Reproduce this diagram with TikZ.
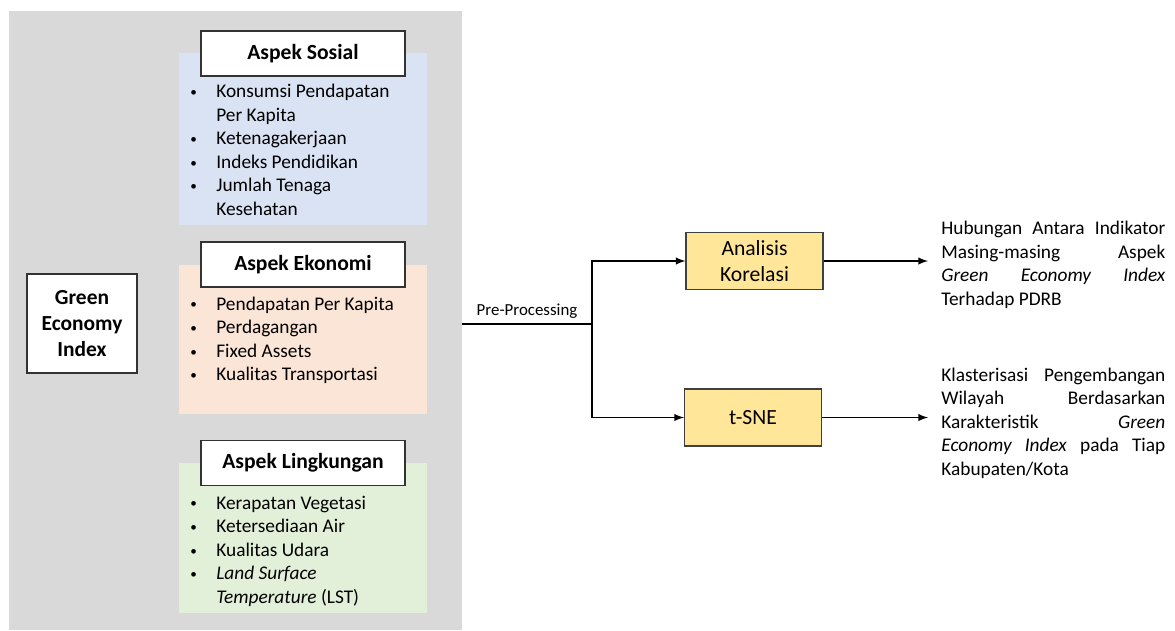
\documentclass[tikz,border=0pt]{standalone}
\usepackage{fontspec}
\setmainfont{Carlito}
\usepackage{tikz}
\usetikzlibrary{shapes,arrows,positioning,fit}

\definecolor{panelgray}{HTML}{D9D9D9}
\definecolor{sosialblue}{HTML}{DAE3F3}
\definecolor{ekonomiorange}{HTML}{FBE5D6}
\definecolor{lingkungangreen}{HTML}{E2F0D9}
\definecolor{methodyellow}{HTML}{FFE699}

\newcommand{\dotitem}{\raisebox{0.12ex}{\fontsize{7.5}{8}\selectfont\textbullet}}
\newcommand{\bulletlist}[1]{\begin{tabular}[t]{@{}p{0.52cm}@{}l@{}}#1\end{tabular}}
\newcommand{\jline}[1]{\makebox[4.48cm][s]{#1}}

\begin{document}
\begin{tikzpicture}
			\tikzstyle{Header} 	= [rectangle, draw=black!80, line width=0.8pt, fill=white, minimum width=4.08cm, minimum height=0.9cm, font=\fontsize{12.3}{15}\selectfont\bfseries]
			\tikzstyle{List}	= [anchor=base west, inner sep=0pt, font=\fontsize{11}{13.4}\selectfont]
			\tikzstyle{Method}	= [rectangle, draw=black!75, line width=0.6pt, fill=methodyellow, minimum width=2.74cm, minimum height=1.14cm, align=center, font=\fontsize{12.3}{14.8}\selectfont]
			\tikzstyle{Result}	= [anchor=west, inner sep=0pt, align=left, font=\fontsize{11}{13.4}\selectfont]
			\tikzstyle{Flow}	= [line width=0.9pt, black]

			\useasboundingbox (0,0) rectangle (23.5,-12.6);

			% background panels
			\fill [panelgray] (0.18,-0.22) rectangle (9.24,-12.6);
			\fill [sosialblue] (3.58,-1.06) rectangle (8.54,-4.5);
			\fill [ekonomiorange] (3.58,-5.3) rectangle (8.54,-8.28);
			\fill [lingkungangreen] (3.58,-9.26) rectangle (8.54,-12.26);

			\node (gei) at (1.64,-6.47) [rectangle, draw=black!80, line width=0.8pt, fill=white, minimum width=2.2cm, minimum height=1.98cm, align=center, font=\fontsize{12.2}{15}\selectfont\bfseries] {Green\\Economy\\Index};

			\node (sosial) at (6.06,-1.07) [Header] {Aspek Sosial};
			\node (ekonomi) at (6.06,-5.29) [Header] {Aspek Ekonomi};
			\node (lingkungan) at (6.06,-9.26) [Header] {Aspek Lingkungan};

			\node (lsosial) at (3.8,-1.95) [List] {\bulletlist{%
				\dotitem & Konsumsi Pendapatan\\
				& Per Kapita\\
				\dotitem & Ketenagakerjaan\\
				\dotitem & Indeks Pendidikan\\
				\dotitem & Jumlah Tenaga\\
				& Kesehatan}};
			\node (lekonomi) at (3.8,-6.2) [List] {\bulletlist{%
				\dotitem & Pendapatan Per Kapita\\
				\dotitem & Perdagangan\\
				\dotitem & Fixed Assets\\
				\dotitem & Kualitas Transportasi}};
			\node (llingkungan) at (3.8,-10.18) [List] {\bulletlist{%
				\dotitem & Kerapatan Vegetasi\\
				\dotitem & Ketersediaan Air\\
				\dotitem & Kualitas Udara\\
				\dotitem & \textit{Land Surface}\\
				& \textit{Temperature} (LST)}};

			\coordinate (pp) at (9.24,-6.48);
			\coordinate (split) at (11.84,-6.48);

			\node (ak) at (15.09,-5.22) [Method] {Analisis\\Korelasi};
			\node (tsne) at (15.06,-8.35) [Method] {t-SNE};

			\node (res1) at (18.82,-5.3) [Result] {\jline{Hubungan Antara Indikator}\\
				\jline{Masing-masing Aspek}\\
				\jline{\textit{Green Economy Index}}\\
				Terhadap PDRB};
			\node (res2) at (18.82,-8.46) [Result] {\jline{Klasterisasi Pengembangan}\\
				\jline{Wilayah Berdasarkan}\\
				\jline{Karakteristik \textit{Green}}\\
				\jline{\textit{Economy Index} pada Tiap}\\
				Kabupaten/Kota};

			\draw [Flow] (pp) -- node [above, inner sep=3pt, font=\fontsize{9.6}{11}\selectfont] (pplabel) {Pre-Processing} (split);
			\draw [Flow, -latex] (split) |- (ak);
			\draw [Flow, -latex] (split) |- (tsne);
			\draw [Flow, -latex, shorten >=0.26cm] (ak.east) -- (ak.east -| res1.west);
			\draw [Flow, -latex, shorten >=0.26cm] (tsne.east) -- (tsne.east -| res2.west);
		\end{tikzpicture}
\end{document}
